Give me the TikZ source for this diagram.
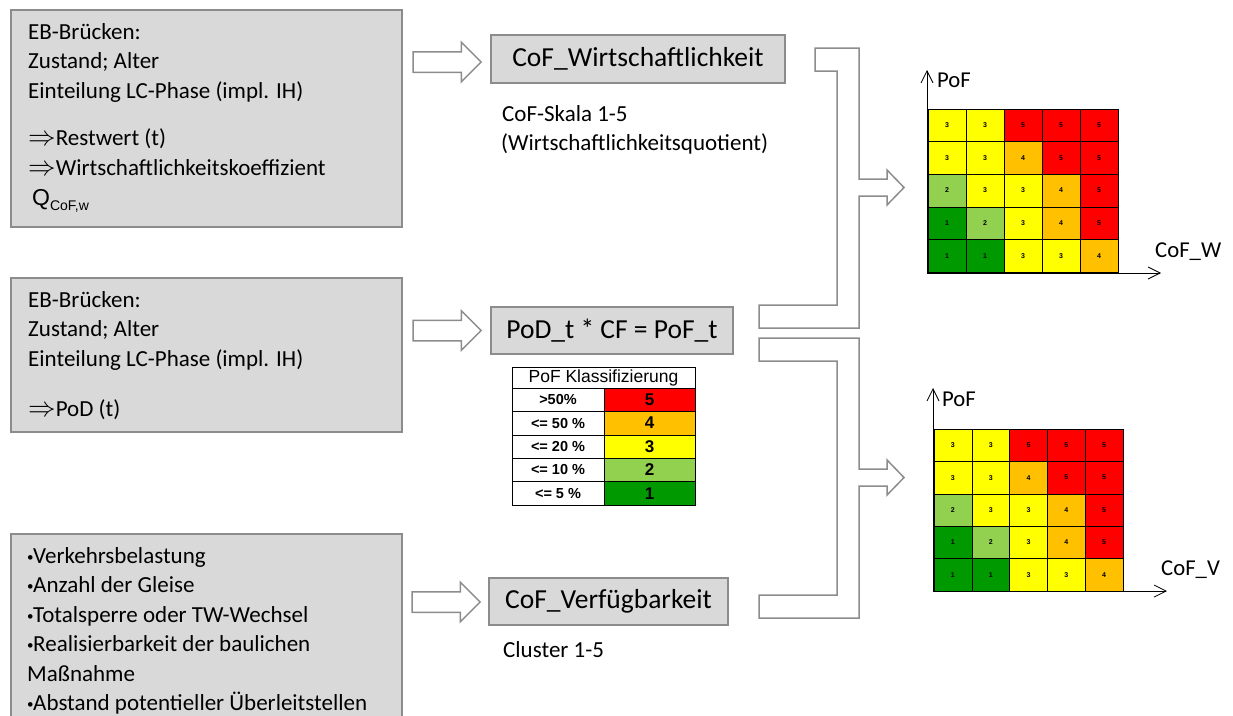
\RequirePackage{fix-cm}
\documentclass[tikz,border=0pt]{standalone}
\usepackage{fontspec}
\setmainfont{Carlito}
\newfontfamily\arialfont{Liberation Sans}
\usetikzlibrary{arrows.meta,shapes.arrows}
\definecolor{boxgray}{RGB}{217,217,217}
\definecolor{linegray}{RGB}{140,140,140}
\definecolor{rk5}{RGB}{255,0,0}
\definecolor{rk4}{RGB}{255,192,0}
\definecolor{rk3}{RGB}{255,255,0}
\definecolor{rk2}{RGB}{146,208,80}
\definecolor{rk1}{RGB}{0,153,0}
\newcommand\blt{\makebox[6pt][l]{\raisebox{2pt}{\fontsize{13}{13}\selectfont •}}}
\newcommand\impl{\scalebox{1.2}{$\Rightarrow$}}
\begin{document}
\begin{tikzpicture}[x=1pt, y=-1pt,
  inbox/.style={draw=linegray, fill=boxgray, line width=1.5pt, anchor=north west, inner sep=0pt},
  boxtext/.style={anchor=base west, inner sep=0pt, font=\fontsize{23}{29.5}\selectfont},
  resbox/.style={draw=linegray, fill=boxgray, line width=1.5pt, inner sep=0pt, font=\fontsize{27.5}{33}\selectfont},
  hollow/.style={single arrow, draw=linegray, line width=1.5pt, minimum height=68pt, inner xsep=0pt, inner ysep=9.5pt, single arrow head extend=9.5pt},
  bracket/.style={draw=linegray, line width=1.5pt, line join=miter},
  rcell/.style={draw=black, line width=0.6pt, inner sep=0pt, font=\arialfont\bfseries\fontsize{7}{8}\selectfont},
  tcell/.style={draw=black, line width=0.6pt, inner sep=0pt, minimum height=23.4pt, font=\arialfont\bfseries\fontsize{14.5}{16}\selectfont},
  axis/.style={line width=0.8pt, -{Straight Barb[length=12pt,width=12pt]}},
  axlabel/.style={anchor=base west, inner sep=0pt, font=\fontsize{22.7}{27}\selectfont}
]
\useasboundingbox (0,0) rectangle (1233,715);
\clip (0,0) rectangle (1233,715);

% input boxes
\node[inbox, minimum width=391pt, minimum height=217pt] (eingW) at (10,9) {};
\node[inbox, minimum width=391pt, minimum height=154pt] (eingP) at (10,277) {};
\node[inbox, minimum width=391pt, minimum height=200pt] (eingV) at (10,533) {};

\foreach \y/\txt [count=\i] in {39/EB-Brücken:, 68.5/{Zustand; Alter}, 98/{Einteilung LC-Phase (impl. IH)},
    145/{\impl Restwert (t)}, 175/{\impl Wirtschaftlichkeitskoeffizient}}
  \node[boxtext] (wl\i) at (28,\y) {\txt};
\node[boxtext] (wl6) at (32,205) {\arialfont Q\raisebox{-5pt}{\fontsize{14}{14}\selectfont CoF,w}};

\foreach \y/\txt [count=\i] in {307/EB-Brücken:, 336.5/{Zustand; Alter}, 366/{Einteilung LC-Phase (impl. IH)},
    416/{\impl PoD (t)}}
  \node[boxtext] (pl\i) at (28,\y) {\txt};

\foreach \y/\txt [count=\i] in {563/\blt Verkehrsbelastung, 592.5/\blt Anzahl der Gleise, 622/\blt Totalsperre oder TW-Wechsel,
    651.5/\blt Realisierbarkeit der baulichen, 681/Maßnahme, 710.5/\blt Abstand potentieller Überleitstellen}
  \node[boxtext] (vl\i) at (27,\y) {\txt};

% block arrows
\node[hollow] (arW) at (442,62) {};
\node[hollow] (arP) at (442,330.5) {};
\node[hollow] (arV) at (441,602) {};

% result boxes
\node[resbox, minimum width=294pt, minimum height=48pt] (cofW) at (638,59) {CoF\_Wirtschaftlichkeit};
\node[resbox, minimum width=242pt, minimum height=47pt] (pof) at (612,330.5) {PoD\_t * CF = PoF\_t};
\node[resbox, minimum width=239pt, minimum height=47pt] (cofV) at (608.5,601.5) {CoF\_Verfügbarkeit};

\node[boxtext] (skala1) at (502,121) {CoF-Skala 1-5};
\node[boxtext] (skala2) at (501,150.5) {(Wirtschaftlichkeitsquotient)};
\node[boxtext] (cluster) at (503,657) {Cluster 1-5};

% PoF table
\node[draw=black, line width=0.6pt, inner sep=0pt, minimum width=183pt, minimum height=21pt,
  font=\arialfont\fontsize{17.5}{19}\selectfont] (tkopf) at (603.5,377.5) {PoF Klassifizierung};
\foreach \lbl/\v [count=\r from 0] in {>50\%/5, <= 50 \%/4, <= 20 \%/3, <= 10 \%/2, <= 5 \%/1}{
  \node[tcell, minimum width=92pt] (tl\r) at (558,399.7+23.4*\r) {\lbl};
  \node[tcell, minimum width=91pt, fill=rk\v, font=\arialfont\bfseries\fontsize{17}{18}\selectfont] (tr\r) at (649.5,399.7+23.4*\r) {\v};
}

% brackets
\draw[bracket] (815,48) -- (859,48) -- (859,179) -- (887,179) -- (887,170) -- (904,187.5) -- (887,205)
  -- (887,196) -- (859,196) -- (859,328) -- (759,328) -- (759,305) -- (837,305) -- (837,71) -- (815,71) -- cycle;
\draw[bracket] (759,338) -- (859,338) -- (859,469) -- (887,469) -- (887,460) -- (904,477.5) -- (887,495)
  -- (887,486) -- (859,486) -- (859,618) -- (759,618) -- (759,595) -- (837,595) -- (837,361) -- (759,361) -- cycle;

% risk matrix W
\foreach \row [count=\r from 0] in {{3,3,5,5,5},{3,3,4,5,5},{2,3,3,4,5},{1,2,3,4,5},{1,1,3,3,4}}
  \foreach \v [count=\c from 0] in \row
    \node[rcell, minimum width=38pt, minimum height=32.6pt, fill=rk\v] (mw\r\c) at (947+38*\c,125.3+32.6*\r) {\v};
\coordinate (wO) at (927,273);
\coordinate (wY) at (927,70);
\coordinate (wX) at (1161,273);
\draw[axis] (wO) -- (wY);
\draw[axis] (wO) -- (wX);
\node[axlabel] (wpof) at (937,87) {PoF};
\node[axlabel] (wcof) at (1155,257) {CoF\_W};

% risk matrix V
\foreach \row [count=\r from 0] in {{3,3,5,5,5},{3,3,4,5,5},{2,3,3,4,5},{1,2,3,4,5},{1,1,3,3,4}}
  \foreach \v [count=\c from 0] in \row
    \node[rcell, minimum width=37.8pt, minimum height=32.4pt, fill=rk\v] (mv\r\c) at (952.9+37.8*\c,445.2+32.4*\r) {\v};
\coordinate (vO) at (933,591);
\coordinate (vY) at (933,388);
\coordinate (vX) at (1167,591);
\draw[axis] (vO) -- (vY);
\draw[axis] (vO) -- (vX);
\node[axlabel] (vpof) at (942,406) {PoF};
\node[axlabel] (vcof) at (1161,575) {CoF\_V};
\end{tikzpicture}
\end{document}
